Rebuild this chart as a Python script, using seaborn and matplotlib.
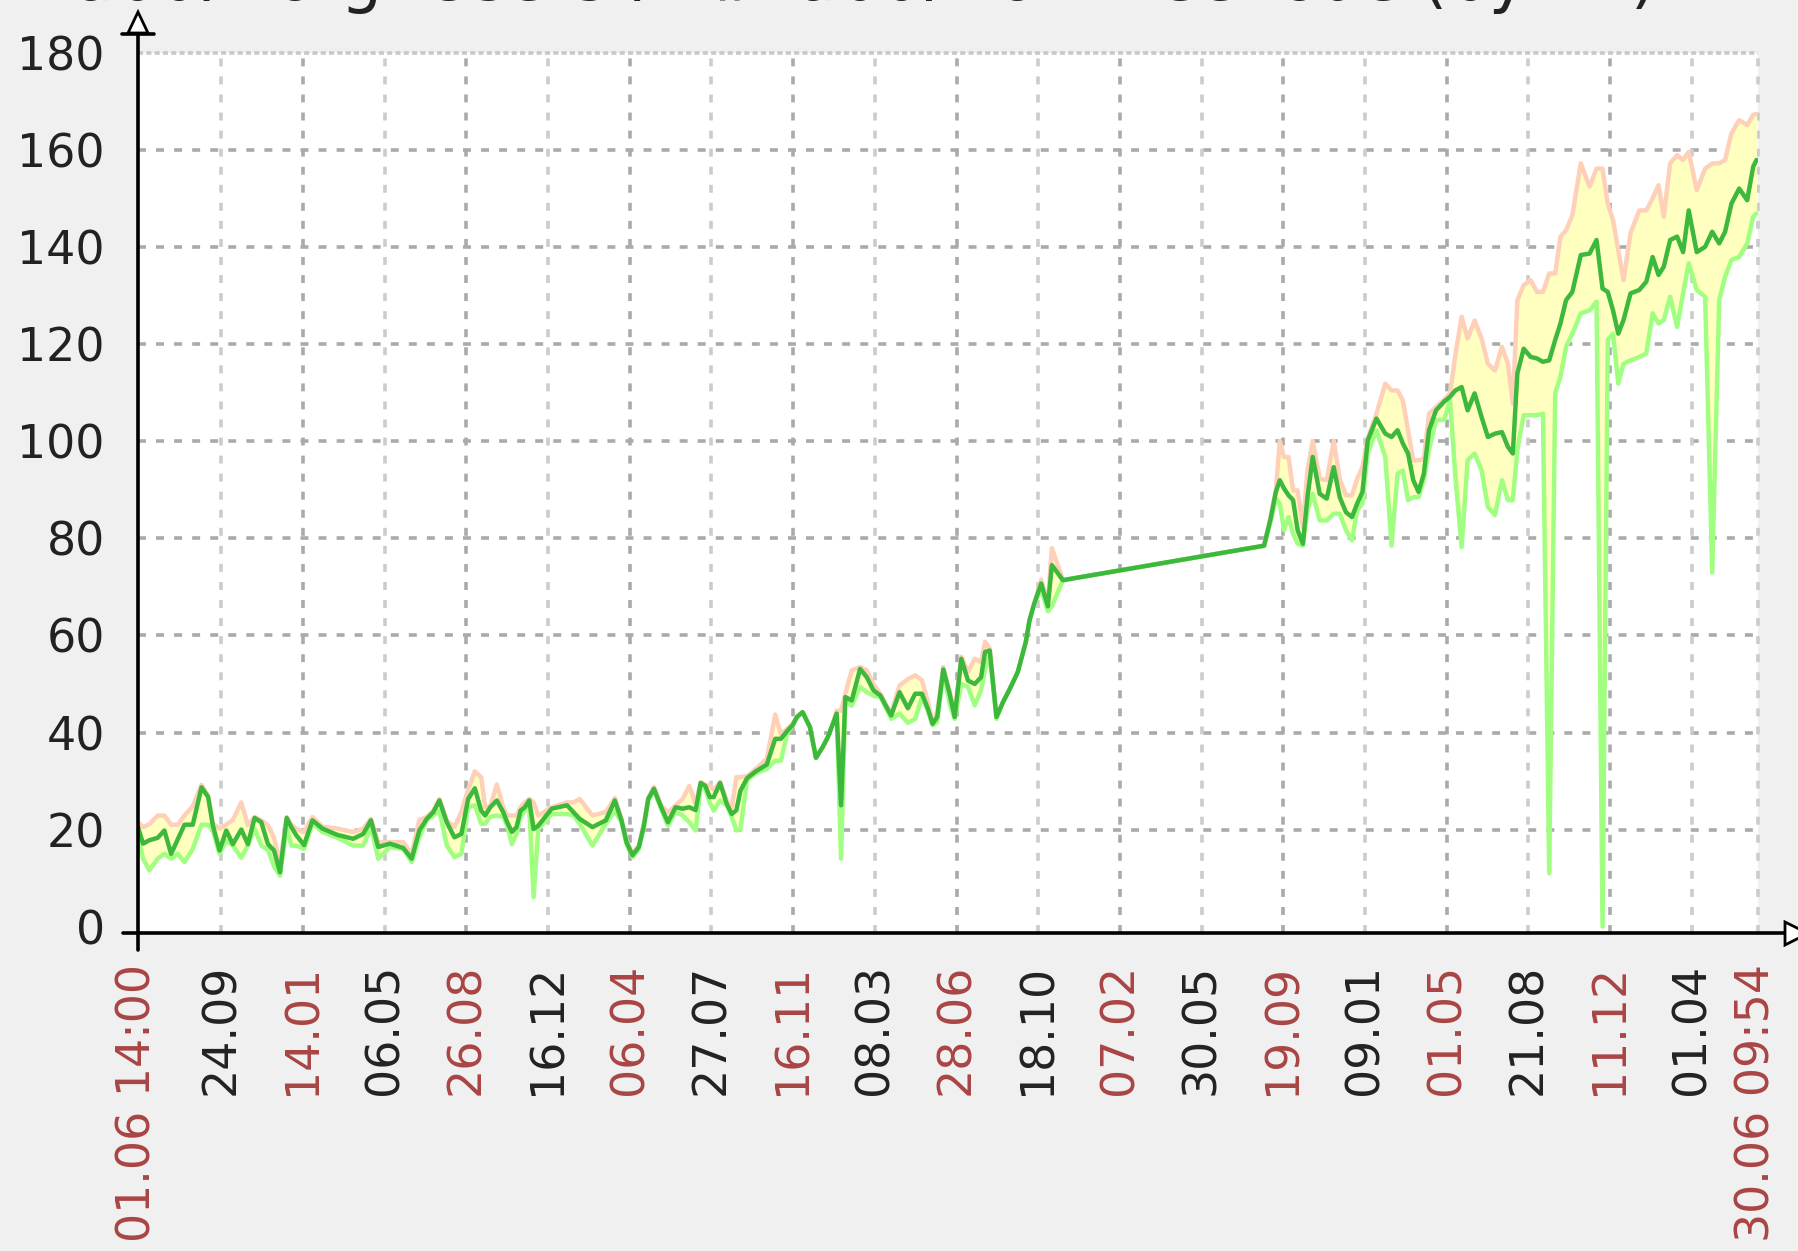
import pandas as pd
import seaborn as sns
import matplotlib.pyplot as plt
from matplotlib.lines import Line2D
from matplotlib.patches import Polygon


# time range of the graph
start = pd.Timestamp("2018-06-01 14:00")
end = pd.Timestamp("2024-06-30 09:54")

# days since start, and avg / min / max users
day = [0, 6.9, 15.6, 27.0, 36.2, 45.4, 54.5, 63.7, 75.1, 87.1, 96.2, 102.6, 111.8, 121.0, 130.1,
       141.6, 150.7, 159.9, 169.1, 178.2, 186.5, 194.7, 203.9, 210.3, 217.2, 227.7, 239.2, 252.9,
       273.5, 295.0, 308.8, 319.4, 329.4, 345.5, 363.8, 375.3, 385.8, 395.9, 405.0, 413.3, 423.4,
       433.9, 443.5, 452.7, 461.9, 470.6, 476.1, 483.0, 492.1, 500.8, 506.3, 512.7, 519.1, 524.6,
       530.6, 536.5, 542.5, 548.9, 567.3, 588.3, 597.0, 605.7, 623.2, 641.5, 653.9, 663.0, 669.9,
       678.1, 686.8, 693.7, 699.7, 707.5, 717.5, 726.7, 737.2, 746.9, 756.0, 764.7, 771.6, 778.0,
       784.0, 789.5, 798.2, 807.3, 814.2, 820.6, 826.1, 835.3, 847.2, 862.3, 873.8, 881.6, 890.7,
       897.6, 903.6, 911.4, 921.5, 929.7, 938.9, 945.8, 952.2, 958.1, 964.1, 970.0, 978.7, 990.2,
       999.4, 1008.5, 1018.2, 1024.1, 1032.8, 1044.3, 1055.7, 1065.8, 1075.0, 1083.2, 1089.6,
       1096.0, 1104.3, 1113.0, 1119.9, 1129.0, 1138.2, 1147.4, 1156.1, 1161.6, 1168.0, 1177.2,
       1186.3, 1193.2, 1200.0, 1206.5, 1212.0, 1217.5, 1222.5, 1228.9, 1238.5, 1247.7, 1253.2,
       1268.3, 1544.2, 1553.2, 1560.4, 1565.7, 1571.5, 1577.7, 1584.0, 1590.2, 1597.4, 1603.7,
       1610.9, 1620.5, 1630.1, 1639.7, 1647.9, 1656.5, 1664.7, 1671.9, 1679.1, 1686.3, 1698.3,
       1710.4, 1719.0, 1727.2, 1734.4, 1741.6, 1748.8, 1756.0, 1763.2, 1770.4, 1780.0, 1791.1,
       1799.2, 1806.5, 1815.1, 1823.3, 1832.9, 1842.5, 1851.1, 1860.8, 1870.4, 1878.5, 1885.3,
       1891.5, 1900.2, 1909.8, 1918.4, 1926.6, 1935.2, 1943.4, 1950.6, 1958.3, 1966.9, 1978.5,
       1990.5, 2000.1, 2008.3, 2015.5, 2022.7, 2029.9, 2037.1, 2046.7, 2058.7, 2068.3, 2077.0,
       2085.1, 2092.3, 2101.0, 2110.6, 2118.8, 2126.5, 2137.5, 2149.0, 2158.7, 2168.3, 2176.4,
       2185.1, 2195.7, 2206.7, 2214.9, 2219.5]

avg = [20.5, 17.1, 17.8, 18.3, 19.8, 15.0, 18.0, 21.0, 21.0, 28.7, 26.7, 20.9, 15.7, 19.8, 17.0,
       20.0, 17.0, 22.4, 21.5, 17.0, 15.7, 11.2, 22.4, 20.5, 18.8, 16.8, 21.9, 20.2,
       18.9, 18.1, 19.1, 21.9, 16.4, 17.1, 16.2, 14.0, 19.8, 22.2, 23.6, 26.0, 21.5,
       18.4, 19.1, 26.3, 28.5, 23.9, 22.9, 24.6, 26.0, 23.6, 21.5, 19.5, 20.5, 23.9,
       24.6, 26.0, 20.1, 20.8, 24.3, 25.0, 23.6, 22.2, 20.5, 21.9, 26.0, 21.9, 17.4,
       14.7, 16.4, 20.8, 26.3, 28.4, 24.6, 21.5, 24.6, 24.3, 24.6, 24.0, 29.6, 29.0,
       26.7, 26.7, 29.6, 25.3, 23.2, 24.0, 28.0, 30.6, 32.0, 33.4, 38.7, 38.7, 40.4,
       41.5, 43.2, 44.2, 41.1, 34.8, 37.0, 39.0, 41.5, 43.9, 25.0, 47.3, 46.6, 53.1,
       51.4, 48.7, 47.6, 45.9, 43.5, 48.3, 45.0, 48.0, 48.0, 44.9, 41.8,
       43.2, 53.0, 48.0, 43.2, 55.2, 50.7, 50.0, 51.4, 56.6, 56.9, 43.2,
       46.3, 48.3, 50.4, 52.5, 55.6, 58.7, 63.1, 66.5, 70.7, 66.0, 74.5,
       71.4, 78.5, 84.1, 89.6, 92.0, 90.3, 88.9, 87.9, 81.7, 78.9, 88.5,
       96.8, 89.2, 88.2, 94.7, 88.5, 85.4, 84.4, 87.2, 89.6, 100.2, 104.7,
       101.6, 100.9, 102.3, 99.6, 97.5, 92.0, 89.6, 93.3, 102.3, 106.4, 108.2,
       109.2, 110.5, 111.2, 106.4, 109.9, 105.0, 100.9, 101.6, 101.9, 98.9, 97.5,
       114.0, 119.1, 117.4, 117.1, 116.4, 116.7, 120.9, 124.3, 129.1, 130.8, 138.4,
       138.7, 141.5, 131.5, 130.8, 127.0, 122.2, 125.0, 130.5, 131.2, 132.9, 138.0,
       134.3, 136.0, 141.5, 142.2, 139.0, 147.6, 139.0, 140.1, 143.2, 140.8, 143.2,
       149.0, 152.1, 149.7, 156.6, 158.0]

low = [18.5, 14.0, 11.6, 14.0, 15.0, 14.0, 15.0, 13.3, 16.0, 21.0, 21.0, 19.8, 15.0, 17.7, 16.7,
       14.2, 16.7, 20.2, 16.7, 15.8, 12.4, 10.5, 20.5, 16.7, 16.7, 16.0, 21.2, 19.5,
       18.3, 16.7, 16.7, 20.5, 14.0, 16.4, 16.0, 13.3, 18.4, 21.9, 22.9, 23.9, 16.7,
       14.3, 15.0, 24.6, 25.0, 21.2, 21.2, 22.6, 22.9, 22.6, 20.8, 17.0, 19.1, 22.6,
       23.9, 24.6, 6.1, 20.1, 23.2, 23.2, 22.9, 21.2, 16.7, 21.2, 23.9, 21.5, 17.0,
       14.3, 16.0, 20.4, 26.0, 28.0, 24.2, 20.8, 23.6, 22.9, 21.5, 19.8, 28.7, 28.4,
       25.6, 23.9, 26.0, 25.0, 22.6, 19.8, 20.1, 30.2, 31.6, 32.5, 34.2, 34.2, 40.0,
       41.2, 43.2, 44.2, 41.1, 34.8, 37.0, 39.0, 41.5, 43.7, 14.0, 46.5, 45.5, 49.4,
       48.3, 47.6, 47.3, 45.6, 42.8, 43.9, 42.0, 42.8, 47.3, 44.5, 41.5,
       42.2, 52.5, 46.0, 42.8, 50.0, 49.4, 45.6, 48.7, 53.0, 55.9, 42.8,
       46.3, 48.3, 50.4, 52.5, 55.6, 58.7, 63.1, 66.5, 69.5, 65.0, 66.0,
       71.4, 78.5, 83.5, 88.2, 87.2, 81.7, 84.4, 81.0, 78.9, 78.5, 85.8,
       89.2, 83.7, 83.7, 85.1, 85.1, 81.7, 79.6, 85.8, 87.2, 97.5, 102.3,
       96.8, 78.5, 93.3, 94.0, 87.9, 88.5, 88.5, 92.0, 98.2, 104.4, 104.4,
       108.5, 92.7, 78.2, 96.1, 97.5, 94.0, 86.5, 84.8, 92.0, 87.9, 87.9,
       98.2, 105.4, 105.4, 105.4, 105.7, 11.0, 109.9, 113.3, 119.5, 122.2, 126.4,
       127.0, 128.8, 0.0, 120.9, 122.2, 111.9, 116.0, 116.7, 117.4, 118.1, 126.4,
       124.3, 125.0, 129.8, 123.6, 130.5, 136.7, 131.2, 129.8, 73.0, 129.1, 133.9,
       137.4, 138.0, 140.8, 146.3, 147.0]

high = [21.5, 20.5, 21.1, 22.9, 22.9, 21.0, 21.0, 22.9, 24.8, 29.2, 27.0, 21.2, 20.2, 21.0, 22.0,
        25.6, 20.9, 22.6, 21.9, 20.9, 18.3, 12.9, 22.6, 20.9, 20.2, 19.5, 22.6, 20.6,
        20.2, 19.5, 20.2, 22.2, 17.4, 17.4, 17.4, 15.0, 22.0, 22.6, 23.9, 26.3, 21.9,
        20.5, 23.7, 28.2, 32.0, 30.8, 24.6, 24.8, 29.3, 24.6, 22.9, 22.9, 22.9, 24.6,
        25.6, 26.3, 25.6, 22.9, 24.6, 25.6, 25.6, 26.3, 22.9, 23.6, 26.5, 22.2, 17.8,
        15.0, 16.8, 21.2, 26.6, 28.8, 25.0, 23.5, 25.0, 26.3, 29.0, 25.3, 29.8, 29.2,
        29.0, 28.2, 29.8, 26.0, 24.6, 30.8, 30.8, 31.0, 32.5, 34.6, 43.7, 39.7, 40.8,
        41.8, 43.2, 44.2, 41.1, 34.8, 37.0, 39.0, 41.5, 44.5, 44.5, 48.0, 52.8, 53.5,
        52.8, 50.0, 47.9, 46.2, 44.0, 49.7, 51.0, 51.8, 50.8, 46.3, 42.2,
        44.2, 53.5, 48.5, 43.6, 55.6, 52.5, 55.2, 54.5, 58.7, 57.3, 43.6,
        46.3, 48.3, 50.4, 52.5, 55.6, 58.7, 63.1, 66.5, 71.5, 66.8, 78.0,
        71.4, 78.5, 84.5, 90.0, 100.1, 96.8, 96.8, 89.9, 89.9, 82.4, 94.0,
        100.1, 92.3, 92.0, 100.1, 92.3, 88.9, 88.9, 92.3, 94.7, 100.6, 105.7,
        111.9, 110.5, 110.5, 108.5, 102.3, 96.1, 96.1, 96.4, 105.7, 107.1, 108.6,
        109.9, 117.8, 125.7, 121.2, 124.9, 121.2, 116.0, 114.6, 119.5, 116.0, 107.8,
        129.1, 132.2, 133.2, 130.8, 130.8, 134.6, 134.6, 142.2, 143.5, 146.6, 157.3,
        152.5, 156.2, 156.2, 149.0, 145.6, 139.4, 133.2, 142.9, 147.6, 147.6, 150.1,
        152.8, 146.3, 157.3, 159.0, 158.0, 159.7, 151.8, 156.2, 157.3, 157.3, 158.0,
        163.5, 166.2, 165.2, 167.3, 167.5]

# x axis labels (every 16 weeks), first and last are the graph period limits
tick_dates = ["2018-06-01 14:00", "2018-09-24 00:00", "2019-01-14 00:00", "2019-05-06 00:00",
              "2019-08-26 00:00", "2019-12-16 00:00", "2020-04-06 00:00", "2020-07-27 00:00",
              "2020-11-16 00:00", "2021-03-08 00:00", "2021-06-28 00:00", "2021-10-18 00:00",
              "2022-02-07 00:00", "2022-05-30 00:00", "2022-09-19 00:00", "2023-01-09 00:00",
              "2023-05-01 00:00", "2023-08-21 00:00", "2023-12-11 00:00", "2024-04-01 00:00",
              "2024-06-30 09:54"]
tick_labels = ["01.06 14:00", "24.09", "14.01", "06.05", "26.08", "16.12", "06.04", "27.07",
               "16.11", "08.03", "28.06", "18.10", "07.02", "30.05", "19.09", "09.01", "01.05",
               "21.08", "11.12", "01.04", "30.06 09:54"]
y_ticks = [0, 20, 40, 60, 80, 100, 120, 140, 160, 180]

title = "Zabbix.org: Users in #zabbix on Freenode (by 1h)"


df = pd.DataFrame({
    "time": start + pd.to_timedelta(day, unit="D"),
    "avg": avg,
    "min": low,
    "max": high,
})

sns.set_style("white")
plt.rcParams["font.family"] = ["DejaVu Sans"]

W, H = 1798, 1251
def fx(x):
    return x / W
def fy(y):
    return 1 - y / H

fig = plt.figure(figsize=(W / 100, H / 100), dpi=100, facecolor="#f0f0f0")
ax = fig.add_axes([fx(138), fy(933.4), fx(1757.5) - fx(138), fy(53.2) - fy(933.4)])
ax.set_facecolor("white")

# grid
dash = (0, (2.2, 2.8))
for v in y_ticks[1:-1]:
    ax.axhline(v, color="#aaaaaa", lw=2.6, linestyle=dash, zorder=1)
ax.axhline(180, color="#c8c8c8", lw=2.6, linestyle=(0, (1.4, 0.9)), zorder=1, clip_on=False)
tick_ts = pd.to_datetime(tick_dates, format="%Y-%m-%d %H:%M")
for i, t in enumerate(tick_ts[1:-1], start=1):
    ax.axvline(t, color="#aaaaaa" if i % 2 == 0 else "#cccccc", lw=2.6,
               linestyle=dash, zorder=1)
ax.axvline(end, color="#cccccc", lw=2.6, linestyle=dash, zorder=1, clip_on=False)

# min..max band, then min, max and avg lines
ax.fill_between(df["time"], df["min"], df["max"], color="#ffffc0", lw=0, zorder=2)
sns.lineplot(data=df, x="time", y="max", color="#ffd0b8", lw=3.2, ax=ax, zorder=3)
sns.lineplot(data=df, x="time", y="min", color="#a0ff80", lw=3.2, ax=ax, zorder=3)
sns.lineplot(data=df, x="time", y="avg", color="#3cb83c", lw=3.2, ax=ax, zorder=4)

ax.set_xlim(start, end)
ax.set_ylim(-1.4, 180)
ax.set_xlabel("")
ax.set_ylabel("")
for s in ax.spines.values():
    s.set_visible(False)

ax.set_yticks(y_ticks)
ax.set_yticklabels([str(v) for v in y_ticks])
ax.set_xticks(tick_ts)
ax.set_xticklabels(tick_labels, rotation=90)
ax.tick_params(axis="y", length=0, pad=24, labelsize=33, labelcolor="#222222")
ax.tick_params(axis="x", length=0, pad=22, labelsize=33)
for i, lab in enumerate(ax.get_xticklabels()):
    lab.set_color("#a94444" if i % 2 == 0 else "#222222")

# axis lines with arrows
fig.add_artist(Line2D([fx(123), fx(1784)], [fy(933.4), fy(933.4)], color="black", lw=2.6))
fig.add_artist(Line2D([fx(138), fx(138)], [fy(950), fy(34)], color="black", lw=2.6))
fig.add_artist(Polygon([(fx(138), fy(12)), (fx(128), fy(33)), (fx(148), fy(33))],
                       closed=True, facecolor="white", edgecolor="black", lw=2))
fig.add_artist(Line2D([fx(122), fx(154)], [fy(34), fy(34)], color="black", lw=2.6))
fig.add_artist(Polygon([(fx(1808), fy(933.4)), (fx(1785), fy(922)), (fx(1785), fy(945))],
                       closed=True, facecolor="white", edgecolor="black", lw=2))

# title sits mostly above the picture, only descenders show
fig.text(fx(30), 1.0, title, fontsize=47, color="#222222", ha="left", va="baseline")

fig.savefig("out.png", dpi=100, facecolor=fig.get_facecolor())
